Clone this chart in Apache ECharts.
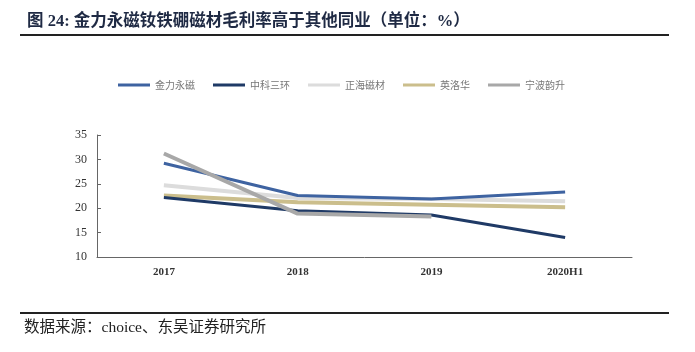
<!DOCTYPE html>
<html><head><meta charset="utf-8">
<script src="https://cdn.jsdelivr.net/npm/echarts@6/dist/echarts.min.js"></script>
<style>html,body{margin:0;padding:0;background:#fff}#c{width:695px;height:352px}</style>
</head><body><div id="c"></div>
<script>
const categories = ['2017', '2018', '2019', '2020H1'];
const jinli = [29.2, 22.6, 21.9, 23.3];
const zhongke = [22.2, 19.5, 18.6, 14.0];
const zhenghai = [24.7, 22.1, 21.9, 21.4];
const yingluohua = [22.6, 21.2, 20.7, 20.2];
const ningbo = [31.2, 18.9, 18.3, null];
const seriesNames = ['金力永磁', '中科三环', '正海磁材', '英洛华', '宁波韵升'];
const yTicks = [10, 15, 20, 25, 30, 35];

const colors = ['#3E63A1', '#1F3A66', '#DCDCDC', '#CBBE8C', '#A8A8A8'];
const data = [jinli, zhongke, zhenghai, yingluohua, ningbo];
const widths = [3, 3, 4, 4, 4];
const serif = '"Liberation Serif", "Noto Sans CJK SC", serif';

const chart = echarts.init(document.getElementById('c'));
chart.setOption({
  animation: false,
  title: {
    text: '图 24: 金力永磁钕铁硼磁材毛利率高于其他同业（单位：%）',
    left: 22, top: 8,
    textStyle: { fontFamily: serif, fontSize: 16.5, fontWeight: 'bold', color: '#1F2A44' }
  },
  legend: {
    left: 113, top: 75, itemWidth: 32, itemHeight: 3, itemGap: 18,
    icon: 'rect',
    textStyle: { fontFamily: '"Noto Sans CJK SC"', fontSize: 10, color: '#777' },
    data: seriesNames
  },
  grid: { left: 97, right: 63, top: 135, bottom: 95 },
  xAxis: {
    type: 'category', data: categories, boundaryGap: true,
    axisLine: { lineStyle: { color: '#666', width: 1 } },
    axisTick: { inside: true, length: 5, lineStyle: { color: '#666' } },
    axisLabel: { fontFamily: serif, fontSize: 11, color: '#333', fontWeight: 'bold', margin: 10 }
  },
  yAxis: {
    type: 'value', min: 10, max: 35, interval: 5,
    splitLine: { show: false },
    axisLine: { show: true, lineStyle: { color: '#666', width: 1 } },
    axisTick: { show: true, inside: true, length: 4, lineStyle: { color: '#666' } },
    axisLabel: { fontFamily: serif, fontSize: 12, color: '#333', margin: 10,
      formatter: v => yTicks.includes(v) ? String(v) : '' }
  },
  series: seriesNames.map((n, i) => ({
    name: n, type: 'line', data: data[i], symbol: 'none',
    color: colors[i],
    lineStyle: { width: widths[i], color: colors[i] },
    z: [5, 4, 2, 3, 6][i]
  })),
  graphic: [
    { type: 'line', shape: { x1: 20, y1: 35, x2: 669, y2: 35 }, style: { stroke: '#222', lineWidth: 2 } },
    { type: 'line', shape: { x1: 20, y1: 313, x2: 669, y2: 313 }, style: { stroke: '#222', lineWidth: 2 } },
    { type: 'text', left: 24, top: 320, style: { text: '数据来源：choice、东吴证券研究所', font: '15.5px "Liberation Serif", "Noto Sans CJK SC", serif', fill: '#222' } }
  ]
});
</script></body></html>
